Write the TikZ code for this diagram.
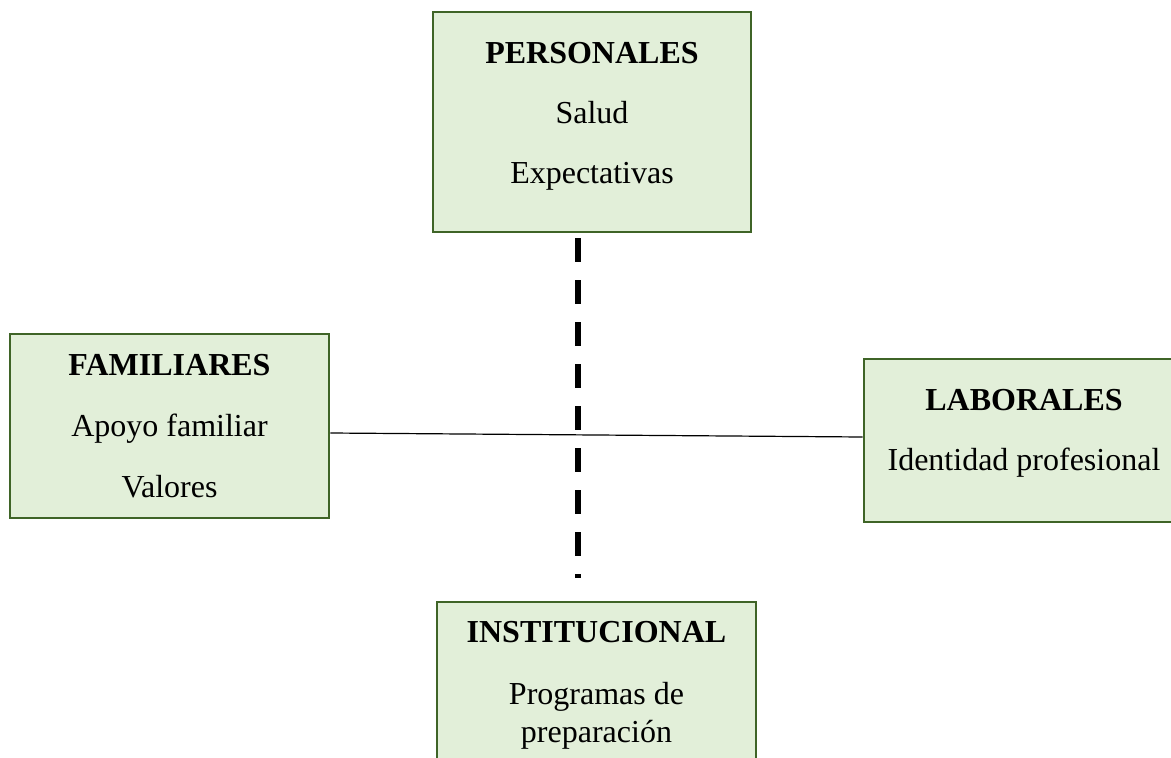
\documentclass[tikz,border=0pt]{standalone}
\usepackage{fontspec}
\setmainfont{Liberation Serif}
\usetikzlibrary{calc}
\definecolor{boxborder}{HTML}{3F6427}
\definecolor{boxfill}{HTML}{E2EFD9}
\tikzset{
  factorbox/.style={draw=boxborder, fill=boxfill, line width=2.6pt, rectangle, inner sep=0pt},
  txt/.style={anchor=base, inner sep=0pt, font=\fontsize{32}{38}\selectfont},
  ttl/.style={txt, font=\fontsize{32}{38}\selectfont\bfseries},
  dashline/.style={line width=6pt, dash pattern=on 24pt off 18pt},
  thinline/.style={line width=1.2pt}
}
\begin{document}
\begin{tikzpicture}[x=1pt,y=-1pt]
\useasboundingbox (0,0) rectangle (1171,758);
\fill[white] (0,0) rectangle (1171,758);
% boxes
\node[factorbox, minimum width=318pt, minimum height=220pt] (pers) at (592,122) {};
\node[factorbox, minimum width=319pt, minimum height=184pt] (fam) at (169.5,426) {};
\node[factorbox, minimum width=320pt, minimum height=163pt] (lab) at (1024,440.5) {};
\node[factorbox, minimum width=319pt, minimum height=200pt] (inst) at (596.5,702) {};
% texts
\node[ttl] (persT) at (592,63) {PERSONALES};
\node[txt] (persA) at (592,123) {Salud};
\node[txt] (persB) at (592,183) {Expectativas};
\node[ttl] (famT) at (169.5,375) {FAMILIARES};
\node[txt] (famA) at (169.5,436) {Apoyo familiar};
\node[txt] (famB) at (169.5,497) {Valores};
\node[ttl] (labT) at (1024,410) {LABORALES};
\node[txt] (labA) at (1024,470) {Identidad profesional};
\node[ttl] (instT) at (596.5,642) {INSTITUCIONAL};
\node[txt] (instA) at (596.5,704) {Programas de};
\node[txt] (instB) at (596.5,742) {preparación};
% connectors
\coordinate (dtop) at ($(pers.south)+(-14,5)$);
\coordinate (dbot) at ($(inst.north)+(-18.5,-23)$);
\draw[dashline] (dtop) -- (dbot);
\draw[thinline] ($(fam.east)+(0,7)$) -- ($(lab.west)+(0,-3.5)$);
\end{tikzpicture}
\end{document}
